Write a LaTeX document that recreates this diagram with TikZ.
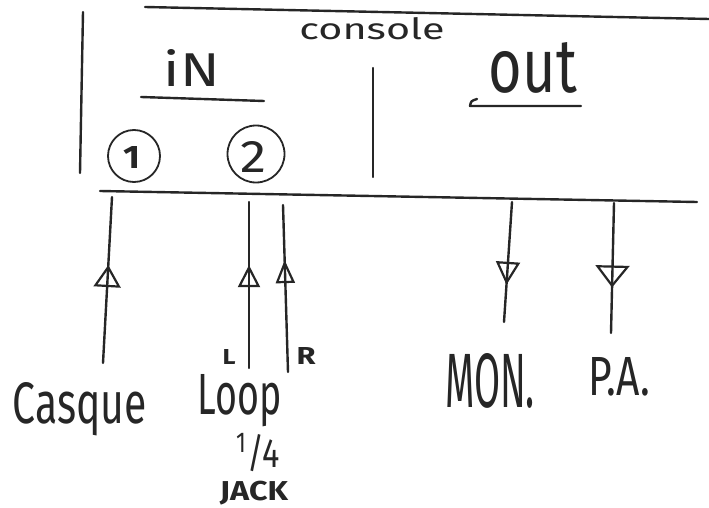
\documentclass[tikz,border=0pt]{standalone}
\usepackage{fontspec}
\usepackage{graphicx}
\setmainfont{Fira Sans}
\usetikzlibrary{arrows.meta,decorations.markings}
\begin{document}
\begin{tikzpicture}[x=1pt,y=-1pt,
  ink/.style={line width=2.4pt, line cap=round, line join=round, draw=black!85},
  lbl/.style={inner sep=0pt, outer sep=0pt, text=black!85},
  port/.style={circle, draw=black!85, line width=1.8pt, inner sep=0pt, minimum size=#1},
  tri/.style n args={3}{postaction={decorate}, decoration={markings,
     mark=at position #1 with {\arrow[line width=2.2pt]{Triangle[open,length=#2,width=#3]}}}}]
\useasboundingbox (0,0) rectangle (709,508);

% console box (open hand-drawn frame)
\coordinate (tl) at (145,7);
\coordinate (tr) at (709,19);
\coordinate (lt) at (83,12);
\coordinate (lb) at (80,173);
\coordinate (bl) at (100,191);
\coordinate (br) at (697,202);
\coordinate (dt) at (373,68);
\coordinate (db) at (373,177);
\draw[ink] (tl) -- (tr);
\draw[ink] (lt) -- (lb);
\draw[ink] (bl) -- (br);
\draw[ink] (dt) -- (db);

\node[lbl] (console) at (372,29) {\resizebox{145pt}{22pt}{console}};

% IN section
\node[lbl, anchor=base] (in) at (192,87) {\resizebox{56pt}{37pt}{iN}};
\coordinate (inUl) at (141,97);
\coordinate (inUr) at (264,101);
\draw[ink] (inUl) -- (inUr);

\node[port=52pt] (c1) at (134,156) {};
\node[lbl] (n1) at (132,157) {\resizebox{17pt}{22pt}{\bfseries 1}};
\node[port=57pt] (c2) at (256,154) {};
\node[lbl] (n2) at (253,157) {\resizebox{26pt}{31pt}{2}};

% OUT section
\node[lbl, anchor=base] (out) at (533,93) {\resizebox{88pt}{50pt}{out}};
\coordinate (outUl) at (470,106);
\coordinate (outUh) at (477,99);
\coordinate (outUr) at (581,106);
\draw[ink] (outUh) .. controls (471,101) .. (outUl) -- (outUr);

% ports on the console
\coordinate (in1) at (112,197);
\coordinate (in2L) at (249,202);
\coordinate (in2R) at (283,205);
\coordinate (outM) at (512,202);
\coordinate (outP) at (614,203);

% free ends of the leads
\coordinate (casEnd) at (103,363);
\coordinate (loopL) at (249,368);
\coordinate (loopR) at (288,372);
\coordinate (monEnd) at (504,322);
\coordinate (paEnd) at (611,333);

% labels
\node[lbl, anchor=base] (casque) at (80,423) {\resizebox{134pt}{41pt}{Casque}};
\node[lbl, anchor=base] (loop) at (240,414) {\resizebox{84pt}{40pt}{Loop}};
\node[lbl, anchor=base] (quarter) at (258,467) {\resizebox{44pt}{34pt}{\textsuperscript{1}/4}};
\node[lbl, anchor=south] (jack) at (254,505) {\resizebox*{68pt}{24pt}{\bfseries JACK}};
\node[lbl, anchor=base] (lL) at (229,364) {\resizebox{13pt}{15pt}{\bfseries L}};
\node[lbl, anchor=base] (lR) at (306,364) {\resizebox{19pt}{17pt}{\bfseries R}};
\node[lbl, anchor=base] (mon) at (490,407) {\resizebox{90pt}{54pt}{MON.}};
\node[lbl, anchor=base] (pa) at (619,395) {\resizebox{62pt}{38pt}{P.A.}};

% leads with open triangle arrows
\draw[ink, tri={0.59}{22pt}{27pt}] (casEnd) -- (in1);
\draw[ink, tri={0.62}{22pt}{22pt}] (loopL) -- (in2L);
\draw[ink, tri={0.67}{23pt}{19pt}] (loopR) -- (in2R);
\draw[ink, tri={0.69}{23pt}{24pt}] (outM) -- (monEnd);
\draw[ink, tri={0.65}{22pt}{34pt}] (outP) -- (paEnd);
\end{tikzpicture}
\end{document}
